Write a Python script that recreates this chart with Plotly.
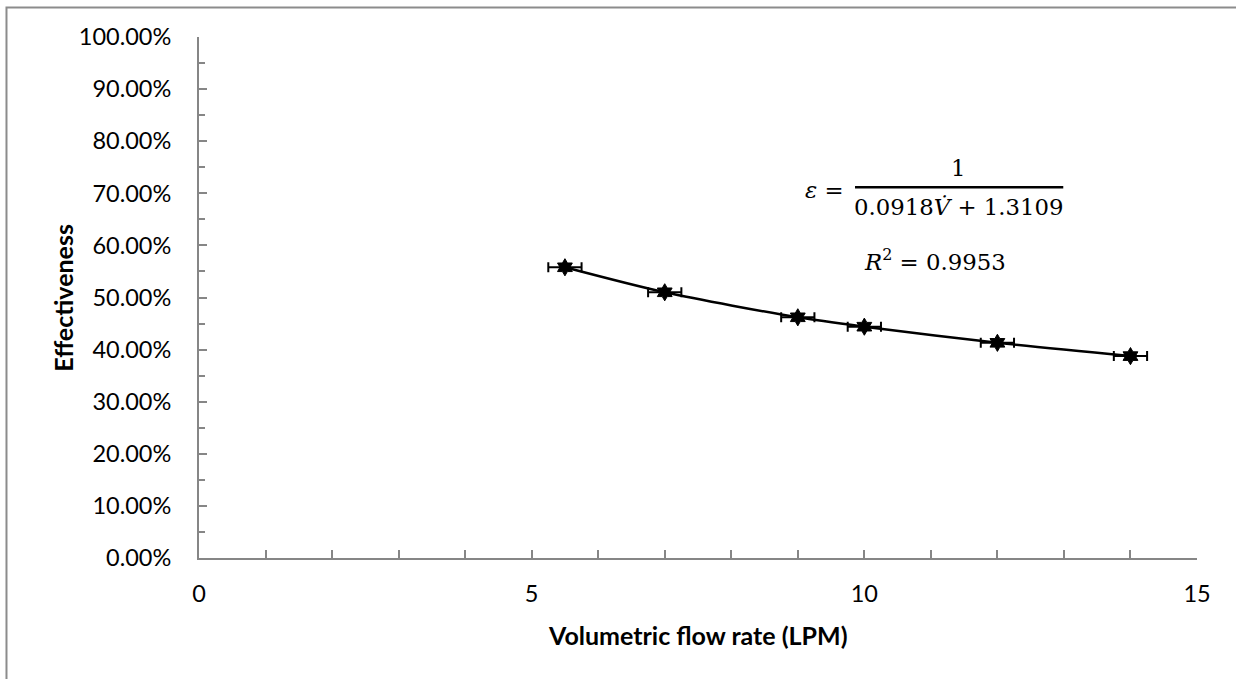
import plotly.graph_objects as go

# Data
flow_rate = [5.5, 7, 9, 10, 12, 14]            # LPM
effectiveness = [0.558, 0.510, 0.462, 0.444, 0.413, 0.3875]
flow_err = [0.25, 0.25, 0.25, 0.25, 0.25, 0.25]

x_title = "Volumetric flow rate (LPM)"
y_title = "Effectiveness"

AX = "#868686"
FONT = "Lato"

fig = go.Figure()
fig.add_trace(go.Scatter(
    x=flow_rate, y=effectiveness,
    mode="lines+markers",
    line=dict(color="black", width=2.5, shape="spline", smoothing=0.8),
    marker=dict(symbol="hexagram", size=13, color="black",
                line=dict(color="black", width=1)),
    error_x=dict(type="data", array=flow_err, symmetric=True,
                 color="black", thickness=2, width=5),
    showlegend=False,
))

fig.update_layout(
    width=1236, height=679,
    margin=dict(l=199, r=39, t=37, b=121),
    paper_bgcolor="white", plot_bgcolor="white",
    font=dict(family=FONT, size=23.5, color="black"),
    xaxis=dict(range=[0, 15], dtick=5, tick0=0, showgrid=False, zeroline=False,
               showline=True, linecolor=AX, linewidth=2,
               ticks="inside", ticklen=8, tickwidth=1.5, tickcolor=AX,
               minor=dict(dtick=1, ticks="inside", ticklen=8, tickwidth=1.5, tickcolor=AX),
               ticklabelstandoff=14),
    yaxis=dict(range=[0, 1], dtick=0.1, tick0=0, tickformat=".2%", showgrid=False,
               zeroline=False, showline=True, linecolor=AX, linewidth=2,
               ticks="inside", ticklen=8, tickwidth=1.5, tickcolor=AX,
               minor=dict(dtick=0.05, ticks="inside", ticklen=6, tickwidth=1.5, tickcolor=AX),
               ticklabelstandoff=21),
)

# chart frame
fig.add_shape(type="rect", xref="paper", yref="paper",
              x0=-0.1929, x1=1.2, y0=-0.3, y1=1.0565,
              line=dict(color="#8c8c8c", width=2), layer="below")

# axis titles
fig.add_annotation(text=f"<b>{x_title}</b>", xref="paper", yref="paper",
                   x=0.5, y=-0.1477, showarrow=False, font=dict(size=25, family=FONT),
                   xanchor="center", yanchor="middle")
fig.add_annotation(text=f"<b>{y_title}</b>", xref="paper", yref="paper",
                   x=-0.137, y=0.5, showarrow=False, textangle=-90,
                   font=dict(size=25, family=FONT), xanchor="center", yanchor="middle")

# trendline equation
SER = "DejaVu Serif"
EQ = 22.8
fig.add_annotation(text="<i>ε</i> =", x=9.40, y=0.706, showarrow=False,
                   font=dict(family=SER, size=EQ), xanchor="center", yanchor="middle")
fig.add_annotation(text="1", x=11.42, y=0.748, showarrow=False,
                   font=dict(family=SER, size=EQ), xanchor="center", yanchor="middle")
fig.add_shape(type="line", x0=9.86, x1=12.99, y0=0.7115, y1=0.7115,
              line=dict(color="black", width=2.5))
fig.add_annotation(text="0.0918<i>V̇</i> + 1.3109", x=11.42, y=0.674, showarrow=False,
                   font=dict(family=SER, size=EQ), xanchor="center", yanchor="middle")
fig.add_annotation(text="<i>R</i><sup>2</sup> = 0.9953", x=11.06, y=0.5716, showarrow=False,
                   font=dict(family=SER, size=EQ), xanchor="center", yanchor="middle")

fig.write_html("out.html", config={"displayModeBar": False},
               post_script="document.body.style.margin='0px';")
